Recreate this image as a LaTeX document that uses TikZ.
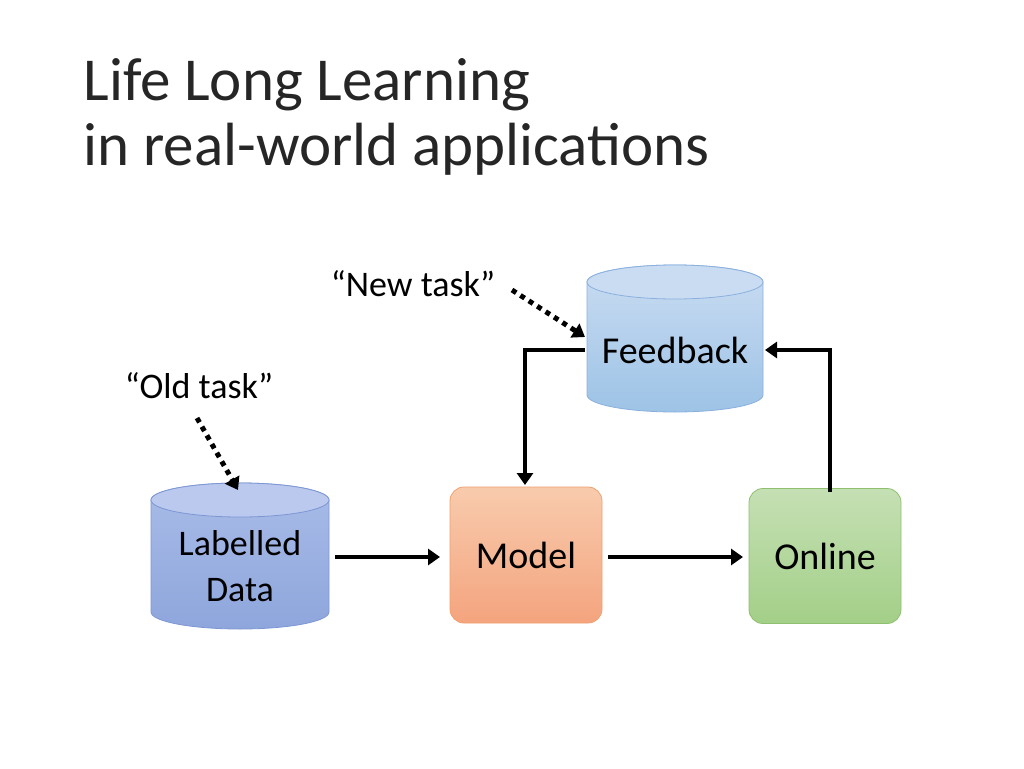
\documentclass[tikz,border=0pt]{standalone}
\usepackage{fontspec}
\setmainfont{Carlito}
\usetikzlibrary{arrows.meta}
\definecolor{fbT}{HTML}{CADCF2}\definecolor{fbB}{HTML}{9DC3E6}\definecolor{fbD}{HTML}{8AB0DE}
\definecolor{ldT}{HTML}{A9BCE8}\definecolor{ldB}{HTML}{8EA6DC}\definecolor{ldD}{HTML}{7D97D4}
\definecolor{moT}{HTML}{F8CBAD}\definecolor{moB}{HTML}{F4A47E}\definecolor{moD}{HTML}{F0A070}
\definecolor{onT}{HTML}{C5E0B4}\definecolor{onB}{HTML}{A3CF88}\definecolor{onD}{HTML}{8FC070}
\begin{document}
\begin{tikzpicture}[x=1pt,y=-1pt,
  arr/.style={line width=4pt,-{Triangle[length=12pt,width=16pt]}},
  dotarr/.style={line width=5pt,dash pattern=on 5pt off 5pt,-{Triangle[length=12pt,width=16pt]}},
  lbl/.style={font=\fontsize{38}{44}\selectfont,align=center}]
\useasboundingbox (0,0) rectangle (1024,768);
\fill[white] (0,0) rectangle (1024,768);
\node[anchor=base west,font=\fontsize{61}{70}\selectfont,text=black!85] (t1) at (80,100) {Life Long Learning};
\node[anchor=base west,font=\fontsize{61}{70}\selectfont,text=black!85] (t2) at (80,165) {in real-world applications};
% Feedback cylinder
\path[draw=fbD,top color=fbT,bottom color=fbB,line width=0.8pt]
  (587,282) -- (587,395) arc[start angle=180,end angle=0,x radius=88,y radius=17] -- (763,282) arc[start angle=360,end angle=180,x radius=88,y radius=17] -- cycle;
\draw[line width=0.8pt,draw=fbD,fill=fbT] (675,282) ellipse[x radius=88,y radius=17];
\node[lbl] (fb) at (675,350) {Feedback};
% Labelled data cylinder
\path[draw=ldD,top color=ldT,bottom color=ldB,line width=0.8pt]
  (151,500) -- (151,612) arc[start angle=180,end angle=0,x radius=89,y radius=17] -- (329,500) arc[start angle=360,end angle=180,x radius=89,y radius=17] -- cycle;
\draw[line width=0.8pt,draw=ldD,fill=ldT!80!white] (240,500) ellipse[x radius=89,y radius=17];
\node[lbl,font=\fontsize{36}{46}\selectfont] (ld) at (240,566) {Labelled\\Data};
% Model
\node[draw=moD,line width=0.8pt,rounded corners=14pt,top color=moT,bottom color=moB,minimum width=152pt,minimum height=136pt,lbl] (model) at (526,555) {Model};
% Online
\node[draw=onD,line width=0.8pt,rounded corners=14pt,top color=onT,bottom color=onB,minimum width=152pt,minimum height=135pt,lbl] (online) at (825,556) {Online};
% labels
\node[lbl,font=\fontsize{36}{42}\selectfont] (nt) at (413,284) {“New task”};
\node[lbl,font=\fontsize{36}{42}\selectfont] (ot) at (199,386) {“Old task”};
% arrows
\draw[arr] (335,557) -- (440,557);
\draw[arr] (608,557) -- (743,557);
\draw[arr] (830,492) -- (830,350) -- (765,350);
\draw[arr] (585,350) -- (525,350) -- (525,485);
\draw[dotarr] (512,290) -- (585,337);
\draw[dotarr] (197,418) -- (238,490);
\end{tikzpicture}
\end{document}
